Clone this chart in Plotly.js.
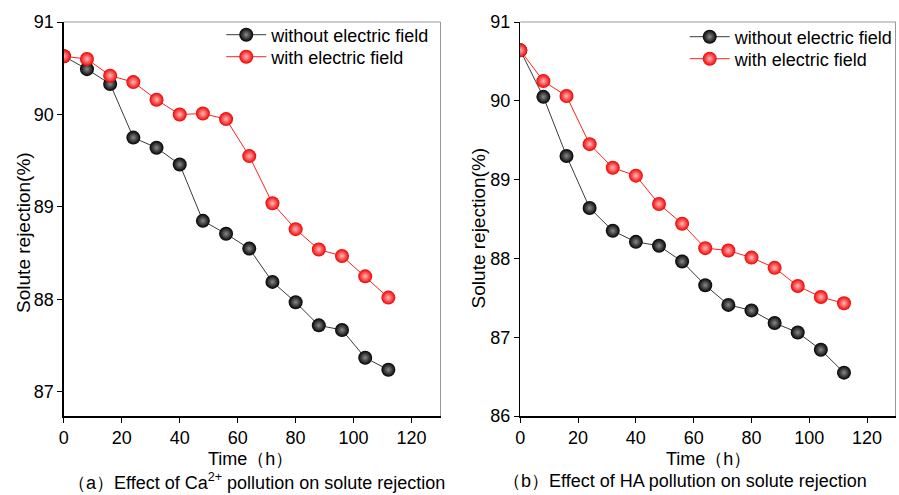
<!DOCTYPE html>
<html>
<head>
<meta charset="utf-8">
<script src="https://cdn.plot.ly/plotly-3.0.1.min.js"></script>
<style>html,body{margin:0;padding:0;background:#fff;}#chart{width:899px;height:495px;}</style>
</head>
<body>
<div id="chart"></div>
<script>
const timeH = [0, 8, 16, 24, 32, 40, 48, 56, 64, 72, 80, 88, 96, 104, 112];
const caWithout = [90.63, 90.49, 90.33, 89.75, 89.64, 89.46, 88.85, 88.71, 88.55, 88.19, 87.97, 87.72, 87.67, 87.37, 87.24];
const caWith    = [90.63, 90.60, 90.42, 90.35, 90.16, 90.00, 90.01, 89.95, 89.55, 89.04, 88.76, 88.54, 88.47, 88.25, 88.02];
const haWithout = [90.64, 90.05, 89.30, 88.64, 88.35, 88.21, 88.16, 87.96, 87.66, 87.41, 87.34, 87.18, 87.06, 86.84, 86.55];
const haWith    = [90.64, 90.25, 90.06, 89.45, 89.15, 89.05, 88.69, 88.44, 88.13, 88.10, 88.01, 87.88, 87.65, 87.51, 87.43];
const seriesNames = ['without electric field', 'with electric field'];
const xTitle = 'Time（h）';
const yTitle = 'Solute rejection(%)';
const captionA = '（a）Effect of Ca<sup>2+</sup> pollution on solute rejection';
const captionB = '（b）Effect of HA pollution on solute rejection';

const FONT = 'Liberation Sans, Arial, sans-serif';
const FS = 18;
function mk(y, name, color, lineColor, grad, xa, ya, leg) {
  return {
    x: timeH, y: y, name: name, type: 'scatter', mode: 'lines+markers',
    xaxis: xa, yaxis: ya, legend: leg,
    line: {color: lineColor, width: 1},
    marker: {size: 14, color: color, line: {width: 0},
             gradient: {type: 'radial', color: grad}}
  };
}
const data = [
  mk(caWithout, seriesNames[0], '#000000', '#3a3a3a', '#8a8a8a', 'x', 'y', 'legend'),
  mk(caWith, seriesNames[1], '#f00000', '#ff2020', '#ffb8b8', 'x', 'y', 'legend2'),
  mk(haWithout, seriesNames[0], '#000000', '#3a3a3a', '#8a8a8a', 'x2', 'y2', 'legend3'),
  mk(haWith, seriesNames[1], '#f00000', '#ff2020', '#ffb8b8', 'x2', 'y2', 'legend4')
];
const W = 899, H = 495;
const PT = 22, PB = 416, PH = PB - PT;
function py(pix) { return (PB - pix) / PH; }
function xax(domain, anchor) {
  return {
    domain: domain, anchor: anchor, range: [0, 130], tickvals: [0,20,40,60,80,100,120],
    showgrid: false, zeroline: false, showline: true, linecolor: '#000', linewidth: 1.5,
    mirror: false, ticks: 'outside', ticklen: 5, tickwidth: 1, tickcolor: '#000',
    tickfont: {family: FONT, size: FS, color: '#000'}, automargin: false
  };
}
function yax(range, ticks, anchor) {
  return {
    domain: [0, 1], anchor: anchor, range: range, tickvals: ticks,
    showgrid: false, zeroline: false, showline: true, linecolor: '#000', linewidth: 1.5,
    ticks: 'outside', ticklen: 5, tickwidth: 1, tickcolor: '#000',
    tickfont: {family: FONT, size: FS, color: '#000'}, automargin: false
  };
}
function leg(xpix, ypix) {
  return {x: xpix / W, y: py(ypix), xanchor: 'left', yanchor: 'middle', bgcolor: 'rgba(0,0,0,0)',
          font: {family: FONT, size: FS, color: '#000'}, itemwidth: 40, borderwidth: 0};
}
const dA = [64/W, 442/W], dB = [522/W, 899/W];
const layout = {
  width: W, height: H,
  margin: {l: 0, r: 0, t: PT, b: H - PB},
  paper_bgcolor: '#fff', plot_bgcolor: '#fff',
  font: {family: FONT, size: FS, color: '#000'},
  xaxis: xax(dA, 'y'),
  yaxis: yax([86.74, 91], [87, 88, 89, 90, 91], 'x'),
  xaxis2: xax(dB, 'y2'),
  yaxis2: yax([86, 91], [86, 87, 88, 89, 90, 91], 'x2'),
  legend: leg(222, 35),
  legend2: leg(222, 57),
  legend3: leg(687, 37),
  legend4: leg(687, 59),
  shapes: [
    {type: 'line', xref: 'paper', yref: 'paper', x0: dA[0], x1: dA[1], y0: 1, y1: 1, line: {color: '#999', width: 1}},
    {type: 'line', xref: 'paper', yref: 'paper', x0: dA[1], x1: dA[1], y0: 0, y1: 1, line: {color: '#999', width: 1}},
    {type: 'line', xref: 'paper', yref: 'paper', x0: dB[0], x1: dB[1], y0: 1, y1: 1, line: {color: '#999', width: 1}},
    {type: 'line', xref: 'paper', yref: 'paper', x0: dB[1] - 0.5/W, x1: dB[1] - 0.5/W, y0: 0, y1: 1, line: {color: '#999', width: 1}}
  ],
  annotations: [
    {text: yTitle, xref: 'paper', yref: 'paper', x: 24/W, y: py(232), textangle: -90, xanchor: 'center', yanchor: 'middle', showarrow: false, font: {family: FONT, size: 19}},
    {text: yTitle, xref: 'paper', yref: 'paper', x: 480/W, y: py(228), textangle: -90, xanchor: 'center', yanchor: 'middle', showarrow: false, font: {family: FONT, size: 19}},
    {text: xTitle, xref: 'paper', yref: 'paper', x: 207/W, xanchor: 'left', y: py(459), yanchor: 'middle', showarrow: false, font: {family: FONT, size: FS}},
    {text: xTitle, xref: 'paper', yref: 'paper', x: 666/W, xanchor: 'left', y: py(459), yanchor: 'middle', showarrow: false, font: {family: FONT, size: FS}},
    {text: captionA, xref: 'paper', yref: 'paper', x: 66/W, xanchor: 'left', y: py(481), yanchor: 'middle', showarrow: false, font: {family: FONT, size: FS}},
    {text: captionB, xref: 'paper', yref: 'paper', x: 503/W, xanchor: 'left', y: py(481), yanchor: 'middle', showarrow: false, font: {family: FONT, size: FS}}
  ],
  showlegend: true
};
Plotly.newPlot('chart', data, layout, {displayModeBar: false, staticPlot: true});
</script>
</body>
</html>
